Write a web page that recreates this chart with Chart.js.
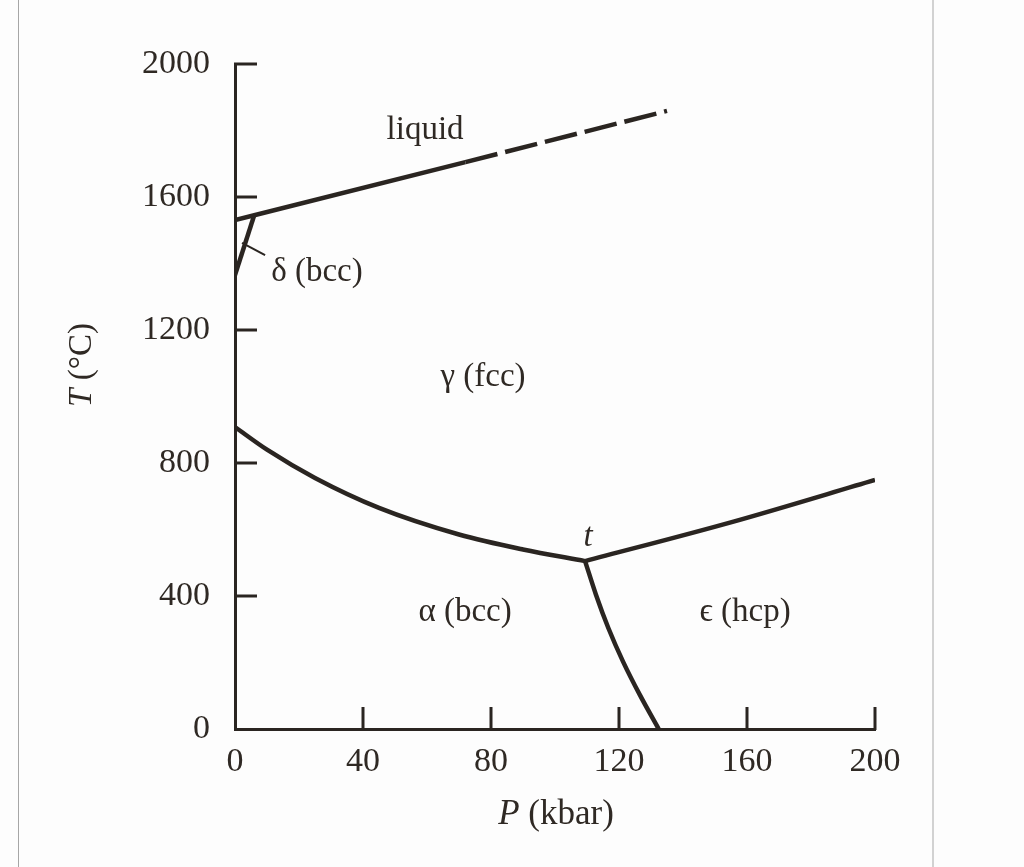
<!DOCTYPE html>
<html><head><meta charset="utf-8">
<script src="https://cdn.jsdelivr.net/npm/chart.js@4/dist/chart.umd.min.js"></script>
<style>
html,body{margin:0;padding:0;background:#fdfdfd;}
#wrap{position:relative;width:1024px;height:867px;overflow:hidden;}
#bl{position:absolute;left:18px;top:0;width:1px;height:867px;background:#a6a6a6;}
#br{position:absolute;left:932px;top:0;width:2px;height:867px;background:#d2d2d2;}
canvas{position:absolute;left:0;top:0;}
</style></head>
<body><div id="wrap"><canvas id="c" width="1024" height="867"></canvas><div id="bl"></div><div id="br"></div></div>
<script>
// ---- data (P in kbar, T in °C) ----
const xTickValues = [0, 40, 80, 120, 160, 200];
const yTickValues = [0, 400, 800, 1200, 1600, 2000];

const liquidSolidP = [0, 6, 72];
const liquidSolidT = [1531, 1545, 1705];
const liquidDashP  = [72, 135];
const liquidDashT  = [1705, 1859];

const deltaGammaP = [6, 0];
const deltaGammaT = [1545, 1365];

const alphaGammaP = [0, 10, 25, 45, 70, 90, 109.4];
const alphaGammaT = [908, 840, 755, 665, 585, 540, 505];

const gammaEpsP = [109.4, 155.5, 200];
const gammaEpsT = [505, 623, 749];

const alphaEpsP = [109.4, 112.8, 116.7, 121.3, 126.6, 132.4];
const alphaEpsT = [505, 404, 303, 202, 101, 0];

const leaderP = [2.2, 9.4];
const leaderT = [1462, 1425];

// region labels
const labelText = ['liquid', 'δ (bcc)', 'γ (fcc)', 't', 'α (bcc)', 'ϵ (hcp)'];
const labelP    = [59.4, 25.6, 77.5, 110.3, 71.9, 159.4];
const labelT    = [1801, 1374, 1059, 577, 352, 352];
const labelItalic = [false, false, false, true, false, false];

const INK = '#2a2521';
const TXT = '#2f2924';
const FONT = "'Liberation Serif', 'Times New Roman', serif";

function pts(px, py) { return px.map((p, i) => ({x: p, y: py[i]})); }
function line(px, py, opts) {
  return Object.assign({
    data: pts(px, py), showLine: true, borderColor: INK, borderWidth: 4.5,
    pointRadius: 0, fill: false, tension: 0, borderCapStyle: 'butt', borderJoinStyle: 'round'
  }, opts || {});
}

const decor = {
  id: 'decor',
  afterDatasetsDraw(chart) {
    const ctx = chart.ctx, xs = chart.scales.x, ys = chart.scales.y;
    const x0 = xs.getPixelForValue(0), y0 = ys.getPixelForValue(0);
    ctx.save();
    ctx.strokeStyle = INK; ctx.lineWidth = 3; ctx.lineCap = 'butt';
    yTickValues.forEach(v => { if (v === 0) return; const py = ys.getPixelForValue(v);
      ctx.beginPath(); ctx.moveTo(x0 - 1, py); ctx.lineTo(x0 + 22, py); ctx.stroke(); });
    xTickValues.forEach(v => { if (v === 0) return; const px = xs.getPixelForValue(v);
      ctx.beginPath(); ctx.moveTo(px, y0 + 1); ctx.lineTo(px, y0 - 22); ctx.stroke(); });
    ctx.fillStyle = TXT; ctx.textAlign = 'center'; ctx.textBaseline = 'middle';
    labelText.forEach((t, i) => {
      ctx.font = (labelItalic[i] ? 'italic ' : '') + '33px ' + FONT;
      ctx.fillText(t, xs.getPixelForValue(labelP[i]), ys.getPixelForValue(labelT[i]));
    });
    function mixed(sym, rest, cx, cy, rot, size) {
      ctx.save(); ctx.translate(cx, cy); ctx.rotate(rot);
      ctx.font = 'italic ' + size + 'px ' + FONT; const w1 = ctx.measureText(sym).width;
      ctx.font = size + 'px ' + FONT; const w2 = ctx.measureText(rest).width;
      const sx = -(w1 + w2) / 2;
      ctx.textAlign = 'left';
      ctx.font = 'italic ' + size + 'px ' + FONT; ctx.fillText(sym, sx, 0);
      ctx.font = size + 'px ' + FONT; ctx.fillText(rest, sx + w1, 0);
      ctx.restore();
    }
    mixed('T', ' (°C)', 82, 365, -Math.PI / 2, 33);
    mixed('P', ' (kbar)', 556, 815, 0, 35);
    ctx.restore();
  }
};

new Chart(document.getElementById('c'), {
  type: 'scatter',
  data: { datasets: [
    line(liquidSolidP, liquidSolidT),
    line(liquidDashP, liquidDashT, {borderDash: [33, 8]}),
    line(deltaGammaP, deltaGammaT),
    line(alphaGammaP, alphaGammaT, {cubicInterpolationMode: 'monotone'}),
    line(gammaEpsP, gammaEpsT, {cubicInterpolationMode: 'monotone'}),
    line(alphaEpsP, alphaEpsT, {cubicInterpolationMode: 'monotone'}),
    line(leaderP, leaderT, {borderWidth: 2})
  ]},
  options: {
    responsive: false, devicePixelRatio: 1, animation: false,
    layout: { padding: { left: 0, top: 64, right: 149, bottom: 0 } },
    plugins: { legend: {display: false}, tooltip: {enabled: false} },
    scales: {
      x: {
        type: 'linear', min: 0, max: 200,
        afterFit(s) { s.height = 138; },
        afterBuildTicks(s) { s.ticks = xTickValues.map(v => ({value: v})); },
        ticks: { color: TXT, padding: 13, font: {family: FONT, size: 34}, maxRotation: 0,
                 callback: v => String(v) },
        grid: { drawOnChartArea: false, drawTicks: false, color: 'rgba(0,0,0,0)' },
        border: { display: true, color: INK, width: 3 }
      },
      y: {
        type: 'linear', min: 0, max: 2000,
        afterFit(s) { s.width = 235; },
        afterBuildTicks(s) { s.ticks = yTickValues.map(v => ({value: v})); },
        ticks: { color: TXT, padding: 25, font: {family: FONT, size: 34},
                 callback: v => String(v) },
        grid: { drawOnChartArea: false, drawTicks: false, color: 'rgba(0,0,0,0)' },
        border: { display: true, color: INK, width: 3 }
      }
    }
  },
  plugins: [decor]
});
</script>
</body></html>
